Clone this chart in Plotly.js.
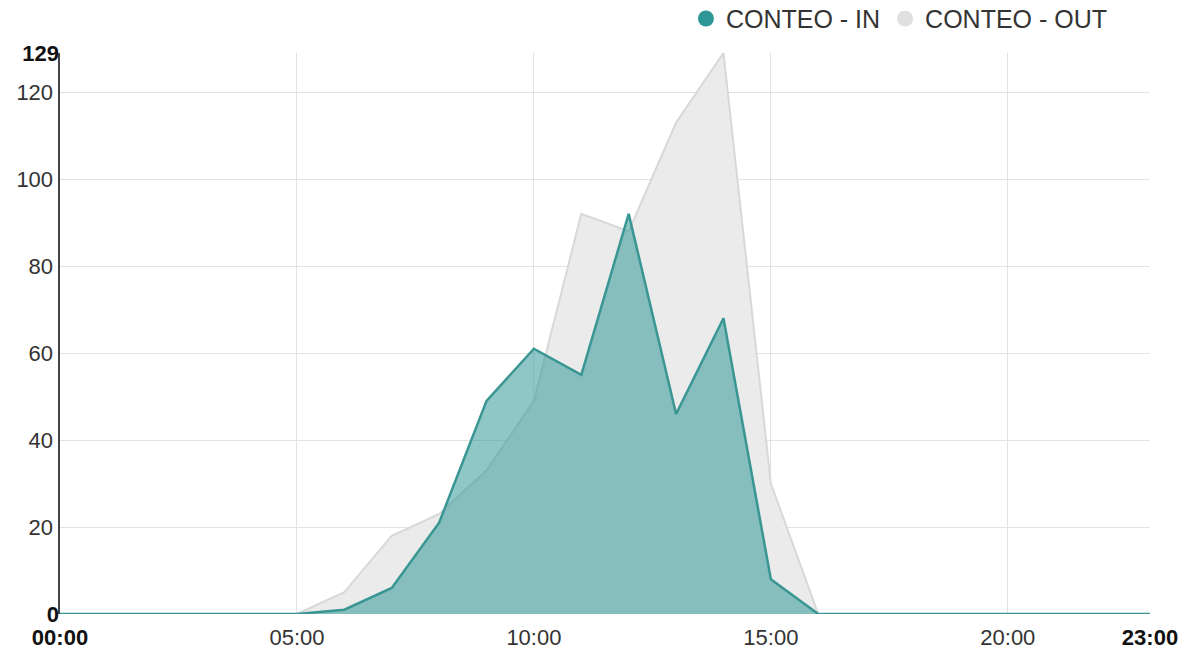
<!DOCTYPE html>
<html>
<head>
<meta charset="utf-8">
<script src="https://cdn.plot.ly/plotly-3.0.1.min.js"></script>
<style>html,body{margin:0;padding:0;background:#fff;}#chart{width:1186px;height:659px;}</style>
</head>
<body>
<div id="chart"></div>
<script>
// Hours of the day (0 = 00:00 ... 23 = 23:00)
const hours = [0,1,2,3,4,5,6,7,8,9,10,11,12,13,14,15,16,17,18,19,20,21,22,23];
const conteoIn  = [0,0,0,0,0,0,1,6,21,49,61,55,92,46,68,8,0,0,0,0,0,0,0,0];
const conteoOut = [0,0,0,0,0,0,5,18,23,33,49,92,88,113,129,30,0,0,0,0,0,0,0,0];
const xGridVals = [5,10,15,20];
const xGridText = ['05:00','10:00','15:00','20:00'];
const xEndVals = [0,23];
const xEndText = ['<b>00:00</b>','<b>23:00</b>'];
const yGridVals = [20,40,60,80,100,120];
const yEndVals = [0,129];
const yEndText = ['<b>0</b>','<b>129</b>'];
const seriesNames = ['CONTEO - IN','CONTEO - OUT'];

const teal = '#3a9693';
const font = {family:'Liberation Sans, Arial, sans-serif', size:22, color:'#333'};
const boldFont = {family:'Liberation Sans, Arial, sans-serif', size:22, color:'#111'};

const traces = [
  {x:hours, y:conteoOut, type:'scatter', mode:'lines', fill:'tozeroy',
   line:{color:'#d8d8d8', width:2}, fillcolor:'#ebebeb', showlegend:false, hoverinfo:'skip'},
  {x:hours, y:conteoIn, type:'scatter', mode:'lines', fill:'tozeroy',
   line:{color:teal, width:2.5}, fillcolor:'rgba(46,152,150,0.54)', showlegend:false, hoverinfo:'skip'},
  {x:[null], y:[null], type:'scatter', mode:'markers', name:seriesNames[0],
   marker:{color:'#2e9896', size:25, symbol:'circle'}},
  {x:[null], y:[null], type:'scatter', mode:'markers', name:seriesNames[1],
   marker:{color:'#e0e0e0', size:25, symbol:'circle'}}
];

const layout = {
  width:1186, height:659,
  margin:{l:60, r:36, t:53, b:45, autoexpand:false},
  paper_bgcolor:'#fff', plot_bgcolor:'#fff',
  font:font,
  showlegend:true,
  legend:{orientation:'h', x:0.966, xanchor:'right', y:1.02, yanchor:'bottom',
          font:{family:font.family, size:25, color:'#333'}, itemwidth:30, tracegroupgap:0},
  xaxis:{range:[0,23], tickmode:'array', tickvals:xGridVals, ticktext:xGridText,
         showgrid:true, gridcolor:'#e3e3e3', gridwidth:1, zeroline:false, showline:false,
         ticks:'', tickfont:font, ticklabelstandoff:8, fixedrange:true},
  xaxis2:{range:[0,23], overlaying:'x', side:'bottom', tickmode:'array', tickvals:xEndVals,
          ticktext:xEndText, showgrid:false, zeroline:false, showline:false, ticks:'',
          tickfont:boldFont, ticklabelstandoff:8, matches:'x'},
  yaxis:{range:[0,129], tickmode:'array', tickvals:yGridVals,
         showgrid:true, gridcolor:'#e3e3e3', gridwidth:1, zeroline:false,
         showline:true, linecolor:'#444', linewidth:2.5, ticks:'', tickfont:font, fixedrange:true},
  yaxis2:{range:[0,129], overlaying:'y', side:'left', tickmode:'array', tickvals:yEndVals,
          ticktext:yEndText, showgrid:false, zeroline:false, showline:false, ticks:'',
          tickfont:boldFont, matches:'y'}
};

// invisible trace anchoring the secondary (end-label) axes
traces.push({x:[0,23], y:[0,129], xaxis:'x2', yaxis:'y2', type:'scatter', mode:'markers',
             marker:{opacity:0}, showlegend:false, hoverinfo:'skip'});

Plotly.newPlot('chart', traces, layout, {displayModeBar:false, staticPlot:true});
</script>
</body>
</html>
